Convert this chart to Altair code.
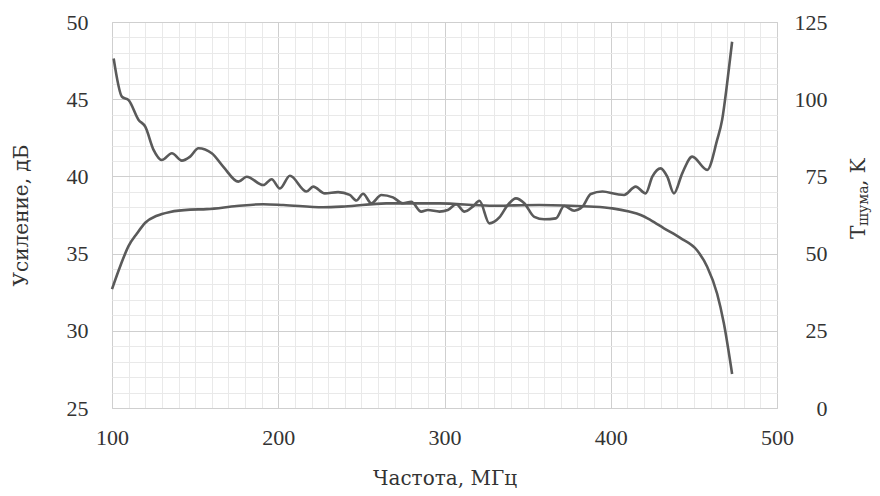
import altair as alt
import pandas as pd

# Gain curve (left axis, dB)
gain_freq = [100, 105, 110, 115, 120, 127, 135, 147, 157, 175, 191, 203, 227, 240,
             265, 297, 327, 357, 387, 401, 411, 418, 424, 432, 442, 452, 458, 464, 468, 473]
gain_db = [32.7, 34.2, 35.5, 36.3, 37.0, 37.45, 37.7, 37.85, 37.88, 38.08, 38.2, 38.15, 38.0, 38.05,
           38.25, 38.25, 38.1, 38.15, 38.05, 37.93, 37.72, 37.5, 37.17, 36.64, 36.0, 35.2, 34.15, 32.4, 30.5, 27.2]

# Noise temperature curve (right axis, K)
noise_freq = [101, 106, 110, 116, 120, 125, 130, 136, 142, 147, 152, 160, 167, 176, 181,
              191, 196, 201, 207, 217, 221, 228, 236, 243, 247, 251, 256, 262, 269, 275,
              280, 286, 290, 297, 302, 307, 312, 317, 321, 327, 333, 338, 343, 348, 354,
              360, 367, 372, 378, 383, 388, 395, 404, 408, 415, 421, 425, 430, 434, 438,
              443, 449, 458, 464, 467, 470, 473]
noise_k = [113.2, 100.8, 99.7, 93.3, 91.1, 83.6, 80.3, 82.5, 80.1, 81.4, 84.1, 82.5, 78.1, 73.3, 74.9,
           72.2, 74.1, 71.1, 75.2, 70.1, 71.7, 69.5, 69.9, 69.0, 67.2, 69.4, 66.3, 69.0, 68.2, 66.3,
           66.8, 63.6, 64.1, 63.6, 64.1, 66.0, 63.6, 65.2, 67.1, 59.8, 61.7, 65.7, 67.9, 66.3, 61.9,
           61.1, 61.4, 65.4, 63.9, 65.2, 69.3, 70.1, 69.2, 69.0, 71.7, 69.5, 74.9, 77.6, 74.9, 69.5,
           76.0, 81.4, 77.1, 86.8, 93.3, 105.1, 118.6]

x_ticks = list(range(100, 501, 10))
y_ticks = [25 + 0.5 * i for i in range(51)]
t_ticks = [0, 25, 50, 75, 100, 125]

gain_df = pd.DataFrame({"f": gain_freq, "g": gain_db})
noise_df = pd.DataFrame({"f": noise_freq, "t": noise_k})

LINE = "#5a5a5a"
TXT = "#333333"
MAJOR = "#cfcfcf"
MINOR = "#e9e9e9"
LBL_FONT = "Liberation Serif"
TTL_FONT = "DejaVu Serif"

x_scale = alt.Scale(domain=[100, 500], nice=False, zero=False)


def make_x_axis():
    return alt.Axis(
        values=x_ticks,
        format="d",
        labelExpr="datum.value % 100 === 0 ? datum.label : ''",
        gridColor={"condition": {"test": "datum.value % 100 === 0", "value": MAJOR}, "value": MINOR},
        grid=True, ticks=False, domain=False, labelFlush=False, labelOverlap=False,
        labelFont=LBL_FONT, labelFontSize=22, labelColor=TXT, labelPadding=19,
        labelBaseline="top",
        title="Частота, МГц", titleFont=TTL_FONT, titleFontSize=20, titleFontWeight="normal",
        titleColor=TXT, titleY=76, titleBaseline="alphabetic",
    )


gain = alt.Chart(gain_df).mark_line(
    color=LINE, strokeWidth=2.6, interpolate="monotone"
).encode(
    x=alt.X("f:Q", scale=x_scale, axis=make_x_axis()),
    y=alt.Y(
        "g:Q",
        scale=alt.Scale(domain=[25, 50], nice=False, zero=False),
        axis=alt.Axis(
            values=y_ticks,
            format="d",
            labelExpr="datum.value % 5 === 0 ? datum.label : ''",
            gridColor={"condition": {"test": "datum.value % 5 === 0", "value": MAJOR}, "value": MINOR},
            grid=True, ticks=False, domain=False, labelOverlap=False, labelFlush=False,
            labelFont=LBL_FONT, labelFontSize=22, labelColor=TXT, labelPadding=24,
            title="Усиление, дБ", titleFont=TTL_FONT, titleFontSize=20, titleFontWeight="normal",
            titleColor=TXT, titleX=-85, titleY=193, titleBaseline="alphabetic",
        ),
    ),
)

noise = alt.Chart(noise_df).mark_line(
    color=LINE, strokeWidth=2.6, interpolate="monotone"
).encode(
    x=alt.X("f:Q", scale=x_scale, axis=make_x_axis()),
    y=alt.Y(
        "t:Q",
        scale=alt.Scale(domain=[0, 125], nice=False, zero=False),
        axis=alt.Axis(
            orient="right", values=t_ticks, grid=False, ticks=False, domain=False,
            labelFont=LBL_FONT, labelFontSize=22, labelColor=TXT, labelPadding=50,
            labelAlign="right", labelFlush=False, title=None,
        ),
    ),
)

title_df = pd.DataFrame({"k": [0]})
t_main = alt.Chart(title_df).mark_text(
    text="T", font=TTL_FONT, fontSize=20, color=TXT, angle=270,
    align="left", baseline="alphabetic",
).encode(x=alt.value(753), y=alt.value(217))
t_sub = alt.Chart(title_df).mark_text(
    text="шума", font=TTL_FONT, fontSize=14, color=TXT, angle=270,
    align="left", baseline="alphabetic",
).encode(x=alt.value(756), y=alt.value(204))
t_end = alt.Chart(title_df).mark_text(
    text=", K", font=TTL_FONT, fontSize=20, color=TXT, angle=270,
    align="left", baseline="alphabetic",
).encode(x=alt.value(753), y=alt.value(164))

chart = alt.layer(gain, noise, t_main, t_sub, t_end).resolve_scale(
    y="independent"
).properties(
    width=665, height=386,
    autosize=alt.AutoSizeParams(type="none"),
    padding={"left": 104, "top": 14, "right": 95, "bottom": 80},
    background="white",
).configure_view(stroke="#cfcfcf", strokeWidth=1)

chart.save("out.html", embed_options={"renderer": "svg", "actions": False})
